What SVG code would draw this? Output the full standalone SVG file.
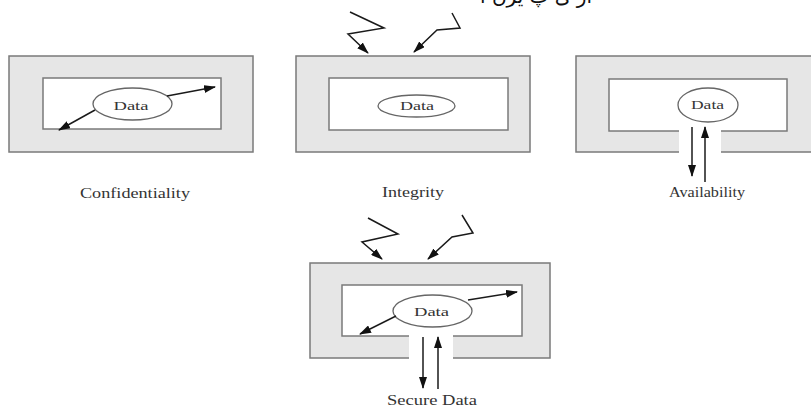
<svg xmlns="http://www.w3.org/2000/svg" width="811" height="408" viewBox="0 0 811 408">
  <style>
    .outer { fill: #e6e6e6; stroke: #7a7a7a; stroke-width: 1.5; }
    .inner { fill: #ffffff; stroke: #7a7a7a; stroke-width: 1.5; }
    .gap { fill: #ffffff; stroke: none; }
    .data { fill: #ffffff; stroke: #666666; stroke-width: 1.3; }
    .lbl { font-family: "Liberation Serif", "Times New Roman", serif; fill: #333333; text-anchor: middle; }
    .wire { fill: none; stroke: #1a1a1a; stroke-width: 1.5; marker-end: url(#head); }
    .top { font-family: "DejaVu Sans", sans-serif; font-size: 20px; fill: #111111; }
  </style>
  <defs>
    <marker id="head" markerUnits="userSpaceOnUse" markerWidth="12" markerHeight="8" refX="11" refY="4" orient="auto">
      <path d="M0,0 L12,4 L0,8 Z" fill="#111111"/>
    </marker>
  </defs>

  <rect width="811" height="408" fill="#ffffff"/>

  <!-- caption line running off the top edge -->
  <text class="top" x="592" y="3" direction="rtl">ار ی پ یرن ا</text>

  <!-- Confidentiality -->
  <g id="confidentiality">
    <rect class="outer" x="9" y="56" width="244" height="96"/>
    <rect class="inner" x="43" y="78" width="178" height="51"/>
    <ellipse class="data" cx="132.5" cy="104" rx="39.5" ry="16"/>
    <text class="lbl" x="131" y="110" font-size="12" textLength="35" lengthAdjust="spacingAndGlyphs">Data</text>
    <text class="lbl" x="135" y="198" font-size="14" textLength="110" lengthAdjust="spacingAndGlyphs">Confidentiality</text>
  </g>

  <!-- Integrity -->
  <g id="integrity">
    <rect class="outer" x="296" y="56" width="234" height="96"/>
    <rect class="inner" x="329" y="78" width="179" height="52"/>
    <ellipse class="data" cx="416.5" cy="106" rx="38.5" ry="11"/>
    <text class="lbl" x="417" y="110" font-size="12" textLength="34" lengthAdjust="spacingAndGlyphs">Data</text>
    <text class="lbl" x="413" y="197" font-size="14" textLength="62" lengthAdjust="spacingAndGlyphs">Integrity</text>
  </g>

  <!-- Availability: the frame opens below the data -->
  <g id="availability">
    <rect class="outer" x="576" y="56" width="240" height="96"/>
    <rect class="inner" x="609" y="79" width="178" height="52"/>
    <rect class="gap" x="679" y="129" width="42" height="25"/>
    <ellipse class="data" cx="708" cy="105" rx="30" ry="17"/>
    <text class="lbl" x="707.5" y="109" font-size="12" textLength="33" lengthAdjust="spacingAndGlyphs">Data</text>
    <text class="lbl" x="707" y="197" font-size="14" textLength="76" lengthAdjust="spacingAndGlyphs">Availability</text>
  </g>

  <!-- Secure Data: all three properties combined -->
  <g id="secure-data">
    <rect class="outer" x="310" y="263" width="240" height="95"/>
    <rect class="inner" x="342" y="285" width="180" height="51"/>
    <rect class="gap" x="409" y="334" width="44" height="26"/>
    <ellipse class="data" cx="432.5" cy="311" rx="39.5" ry="16"/>
    <text class="lbl" x="431.5" y="316" font-size="12" textLength="35" lengthAdjust="spacingAndGlyphs">Data</text>
    <text class="lbl" x="432" y="405" font-size="14" textLength="90" lengthAdjust="spacingAndGlyphs">Secure Data</text>
  </g>

  <g id="connectors">
    <!-- confidentiality: data leaking out -->
    <path class="wire" d="M167,96 L215,87"/>
    <path class="wire" d="M95,110 L59,130"/>
    <!-- integrity: tampering from outside -->
    <path class="wire" d="M350,12 L384,28 L348,34 L368,53"/>
    <path class="wire" d="M452,13 L460,28 L437,30 L414,52"/>
    <!-- availability: access in and out -->
    <path class="wire" d="M692,127 L692,176"/>
    <path class="wire" d="M705,182 L705,127"/>
    <!-- secure data -->
    <path class="wire" d="M368,218 L398,234 L362,242 L382,259"/>
    <path class="wire" d="M462,215 L473,233 L452,237 L428,259"/>
    <path class="wire" d="M468,300 L517,292"/>
    <path class="wire" d="M396,316 L360,334"/>
    <path class="wire" d="M423,337 L423,388"/>
    <path class="wire" d="M438,389 L438,337"/>
  </g>
</svg>
